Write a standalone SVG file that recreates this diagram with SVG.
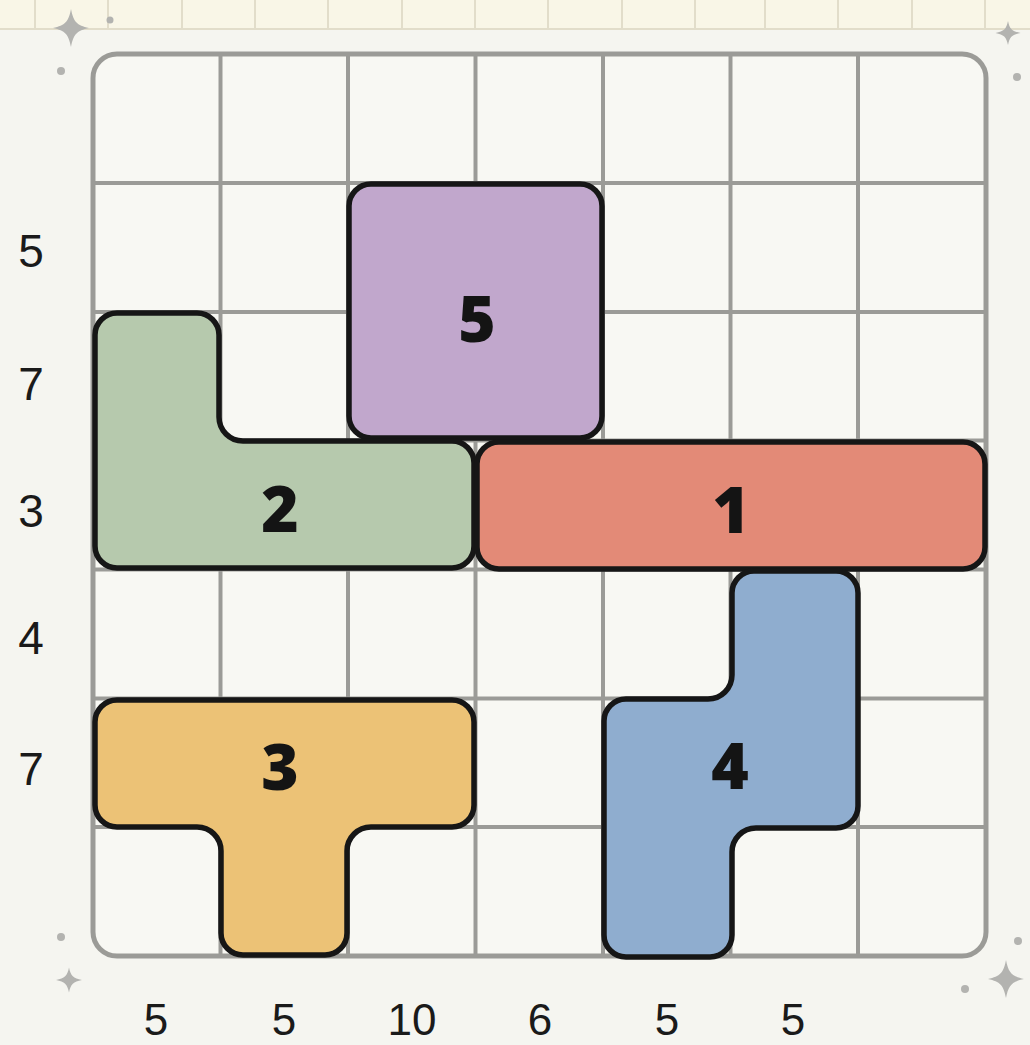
<svg xmlns="http://www.w3.org/2000/svg" width="1030" height="1045" viewBox="0 0 1030 1045">
<style>
.grid{stroke:#9b9b97;stroke-width:4;fill:none}
.piece{stroke:#161616;stroke-width:5.5;stroke-linejoin:round}
.plabel{font-family:"Open Sans","DejaVu Sans",sans-serif;font-weight:800;font-size:64px;fill:#141414;text-anchor:middle}
.clue{font-family:"Liberation Sans",Arial,sans-serif;font-size:46px;fill:#1a1a1a;text-anchor:middle}
.clue-b{font-family:"Liberation Sans",Arial,sans-serif;font-size:44px;fill:#1a1a1a;text-anchor:middle}
.deco{fill:#b3b3b0}
.strip{stroke:#e2ddca;stroke-width:2}
</style>
<defs>
<path id="star" d="M0,-1 C0.14,-0.32 0.32,-0.14 1,0 C0.32,0.14 0.14,0.32 0,1 C-0.14,0.32 -0.32,0.14 -1,0 C-0.32,-0.14 -0.14,-0.32 0,-1 Z"/>
</defs>
<rect x="0" y="0" width="1030" height="1045" fill="#f5f5f0"/>
<g id="top-strip">
<rect x="0" y="0" width="1030" height="29" fill="#f9f6e7"/>
<line class="strip" x1="0" y1="29" x2="1030" y2="29"/>
<g class="strip">
<line x1="35" y1="0" x2="35" y2="29"/><line x1="108" y1="0" x2="108" y2="29"/><line x1="182" y1="0" x2="182" y2="29"/><line x1="255" y1="0" x2="255" y2="29"/><line x1="328" y1="0" x2="328" y2="29"/><line x1="402" y1="0" x2="402" y2="29"/><line x1="475" y1="0" x2="475" y2="29"/><line x1="548" y1="0" x2="548" y2="29"/><line x1="622" y1="0" x2="622" y2="29"/><line x1="695" y1="0" x2="695" y2="29"/><line x1="765" y1="0" x2="765" y2="29"/><line x1="838" y1="0" x2="838" y2="29"/><line x1="912" y1="0" x2="912" y2="29"/><line x1="985" y1="0" x2="985" y2="29"/>
</g>
</g>
<g id="decorations" class="deco">
<use href="#star" transform="translate(71,28) scale(18,19)"/>
<use href="#star" transform="translate(1008,33) scale(12.5,12)"/>
<use href="#star" transform="translate(69,980) scale(13,12.5)"/>
<use href="#star" transform="translate(1006,979) scale(18,19)"/>
<circle cx="110" cy="20" r="3.5"/>
<circle cx="61" cy="71" r="4"/>
<circle cx="1017" cy="77" r="4"/>
<circle cx="61" cy="937" r="4"/>
<circle cx="1018" cy="941" r="4"/>
<circle cx="965" cy="989" r="4"/>
</g>
<g id="board">
<rect x="93" y="54" width="893" height="902" rx="24" fill="#f8f8f3"/>
<g class="grid">
<line x1="220.5" y1="54" x2="220.5" y2="956"/>
<line x1="348" y1="54" x2="348" y2="956"/>
<line x1="475.5" y1="54" x2="475.5" y2="956"/>
<line x1="603" y1="54" x2="603" y2="956"/>
<line x1="730.5" y1="54" x2="730.5" y2="956"/>
<line x1="858" y1="54" x2="858" y2="956"/>
<line x1="93" y1="183" x2="986" y2="183"/>
<line x1="93" y1="312" x2="986" y2="312"/>
<line x1="93" y1="440.5" x2="986" y2="440.5"/>
<line x1="93" y1="569.5" x2="986" y2="569.5"/>
<line x1="93" y1="698.5" x2="986" y2="698.5"/>
<line x1="93" y1="827" x2="986" y2="827"/>
</g>
<rect x="93" y="54" width="893" height="902" rx="24" fill="none" stroke="#9b9b97" stroke-width="5"/>
</g>
<g id="piece-5">
<rect class="piece" x="349" y="184" width="253" height="254" rx="22" fill="#c1a7cc"/>
<text class="plabel" x="477" y="342">5</text>
</g>
<g id="piece-2">
<path class="piece" fill="#b6c9ad" d="M117 313 H197 A22 22 0 0 1 219 335 V417 A24 24 0 0 0 243 441 H452 A22 22 0 0 1 474 463 V546 A22 22 0 0 1 452 568 H117 A22 22 0 0 1 95 546 V335 A22 22 0 0 1 117 313 Z"/>
<text class="plabel" x="280" y="532">2</text>
</g>
<g id="piece-1">
<rect class="piece" x="477" y="442" width="508" height="127" rx="22" fill="#e38a77"/>
<text class="plabel" x="731" y="533">1</text>
</g>
<g id="piece-4">
<path class="piece" fill="#8fadcf" d="M754 571 H836 A22 22 0 0 1 858 593 V806 A22 22 0 0 1 836 828 H756 A24 24 0 0 0 732 852 V935 A22 22 0 0 1 710 957 H626 A22 22 0 0 1 604 935 V721 A22 22 0 0 1 626 699 H708 A24 24 0 0 0 732 675 V593 A22 22 0 0 1 754 571 Z"/>
<text class="plabel" x="730" y="789">4</text>
</g>
<g id="piece-3">
<path class="piece" fill="#ecc276" d="M117 700 H452 A22 22 0 0 1 474 722 V805 A22 22 0 0 1 452 827 H371 A24 24 0 0 0 347 851 V933 A22 22 0 0 1 325 955 H243 A22 22 0 0 1 221 933 V851 A24 24 0 0 0 197 827 H117 A22 22 0 0 1 95 805 V722 A22 22 0 0 1 117 700 Z"/>
<text class="plabel" x="280" y="790">3</text>
</g>
<g id="row-clues">
<text class="clue" x="31" y="267">5</text>
<text class="clue" x="31" y="400">7</text>
<text class="clue" x="31" y="527">3</text>
<text class="clue" x="31" y="654">4</text>
<text class="clue" x="31" y="785">7</text>
</g>
<g id="column-clues">
<text class="clue-b" x="156" y="1035">5</text>
<text class="clue-b" x="284" y="1035">5</text>
<text class="clue-b" x="412" y="1035">10</text>
<text class="clue-b" x="540" y="1035">6</text>
<text class="clue-b" x="667" y="1035">5</text>
<text class="clue-b" x="793" y="1035">5</text>
</g>
<g id="connectors"/>
</svg>
